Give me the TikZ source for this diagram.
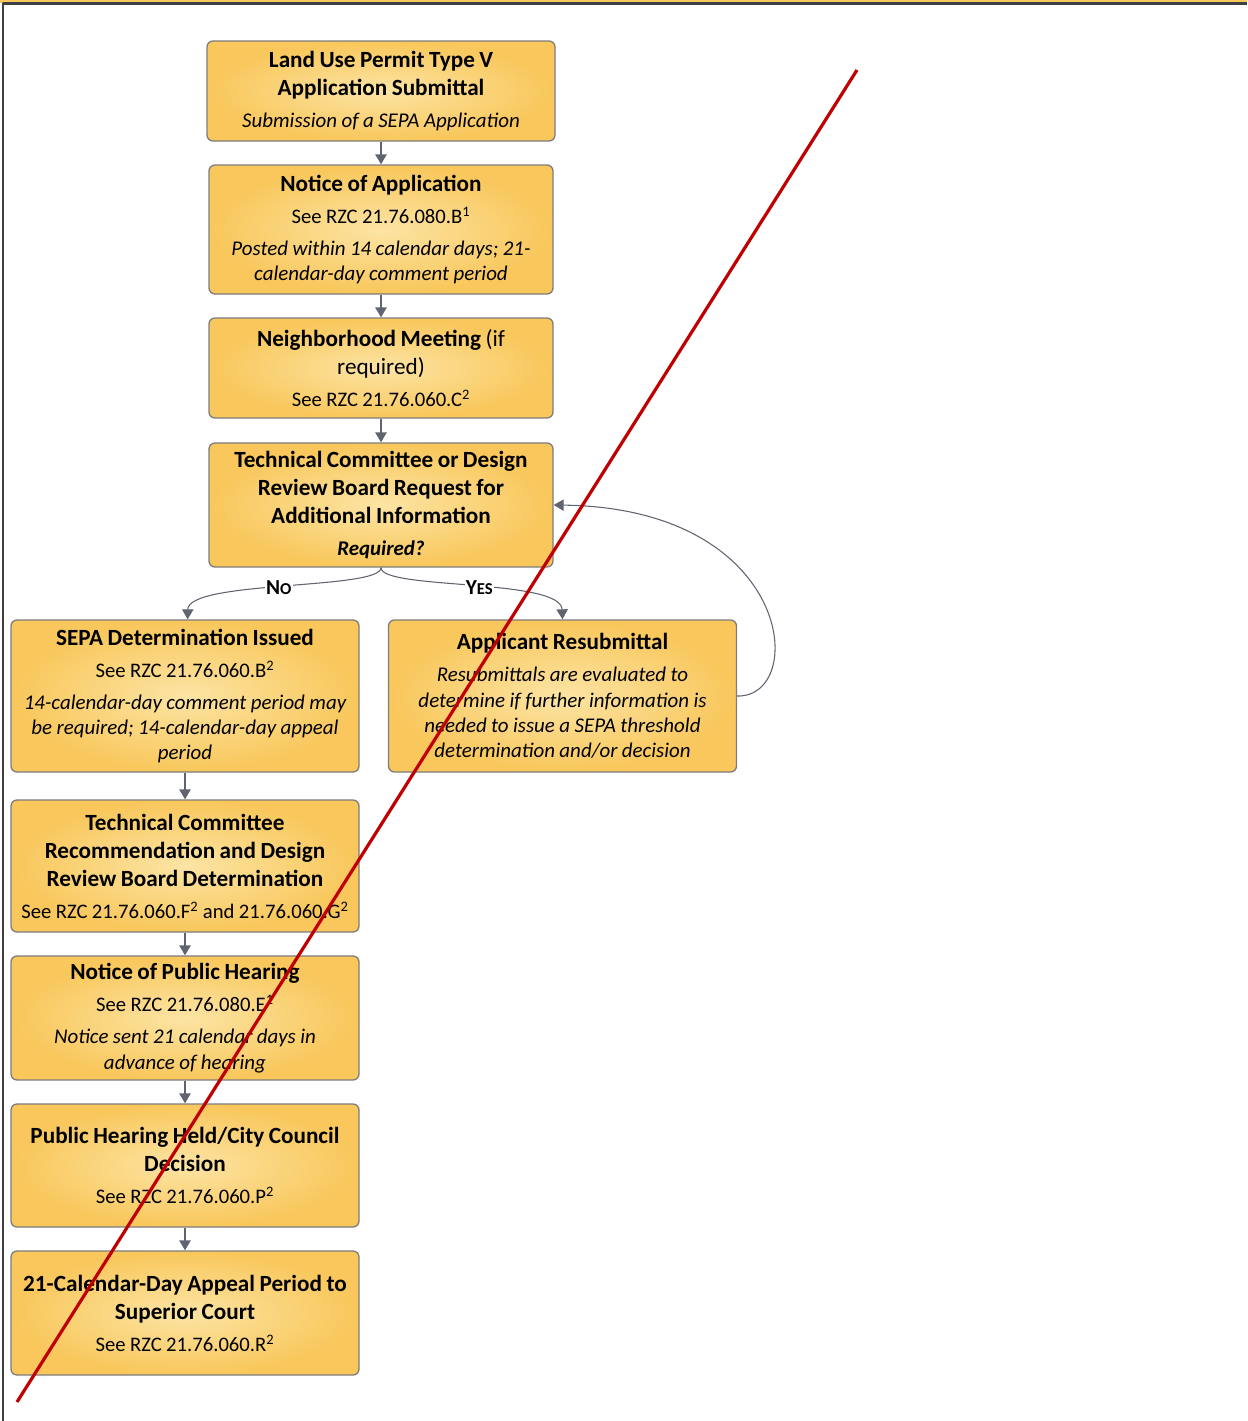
\documentclass[tikz,border=0pt]{standalone}
\usepackage{fontspec}
\setmainfont{Carlito}
\usetikzlibrary{arrows.meta}
\definecolor{boxlight}{HTML}{FCE4A4}
\definecolor{boxdark}{HTML}{F9C75B}
\definecolor{boxline}{HTML}{7D7D7D}
\definecolor{linkgray}{HTML}{5F6470}
\definecolor{strike}{HTML}{C00000}
\definecolor{frameline}{HTML}{3F3F46}
\definecolor{framefill}{HTML}{F9C85C}
\newcommand{\steptitle}[1]{{\fontsize{17.4}{21}\selectfont\bfseries #1\par}}
\newcommand{\stepref}[1]{\vspace{5pt}{\fontsize{15.5}{19}\selectfont #1\par}}
\newcommand{\stepnote}[1]{\vspace{5pt}{\fontsize{15.7}{19}\selectfont\itshape #1\par}}
\newcommand{\smallcapsword}[2]{#1{\fontsize{12.5}{14}\selectfont #2}}
\tikzset{
  stepbox/.style={draw=boxline, line width=1pt, rounded corners=4.5pt,
    inner color=boxlight, outer color=boxdark, align=center,
    text width=255pt, inner xsep=3pt, inner ysep=2pt},
  flow/.style={draw=linkgray, line width=1.3pt, -{Triangle[width=8.5pt,length=7.5pt]}},
  branch/.style={draw=linkgray, line width=0.8pt, -{Triangle[width=8.5pt,length=7.5pt]}},
  answer/.style={fill=white, inner sep=1pt, font=\fontsize{16}{18}\selectfont\bfseries}
}
\begin{document}
\begin{tikzpicture}[x=0.75pt, y=-0.75pt, line join=round]
  \useasboundingbox (0,0) rectangle (1247,1421);
  % frame
  \fill[framefill] (0,0) rectangle (1247,2.5);
  \draw[frameline, line width=1.6pt] (1247,3.5) -- (3,3.5) -- (3,1421);

  % main column
  \node[stepbox, text width=255pt, minimum height=75pt] (submit) at (381,91)
    {\steptitle{Land Use Permit Type V\\ Application Submittal}
     \stepnote{Submission of a SEPA Application}};
  \node[stepbox, text width=252pt, minimum height=96.75pt] (notice) at (381,229.5)
    {\steptitle{Notice of Application}
     \stepref{See RZC 21.76.080.B\textsuperscript{1}}
     \stepnote{Posted within 14 calendar days; 21-\\ calendar-day comment period}};
  \node[stepbox, text width=252pt, minimum height=75pt] (meeting) at (381,368)
    {\steptitle{Neighborhood Meeting {\mdseries(if\\ required)}}
     \stepref{See RZC 21.76.060.C\textsuperscript{2}}};
  \node[stepbox, text width=252pt, minimum height=93pt] (request) at (381,505)
    {\steptitle{Technical Committee or Design\\ Review Board Request for\\ Additional Information}
     \stepnote{\bfseries Required?}};

  % branches
  \node[stepbox, minimum height=114pt] (sepa) at (185,696)
    {\steptitle{SEPA Determination Issued}
     \stepref{See RZC 21.76.060.B\textsuperscript{2}}
     \stepnote{14-calendar-day comment period may\\ be required; 14-calendar-day appeal\\ period}};
  \node[stepbox, minimum height=114pt] (resubmit) at (562.5,696)
    {\steptitle{Applicant Resubmittal}
     \stepnote{Resubmittals are evaluated to\\ determine if further information is\\ needed to issue a SEPA threshold\\ determination and/or decision}};

  % lower column
  \node[stepbox, minimum height=99pt] (review) at (185,866)
    {\steptitle{Technical Committee\\ Recommendation and Design\\ Review Board Determination}
     \stepref{See RZC 21.76.060.F\textsuperscript{2} and 21.76.060.G\textsuperscript{2}}};
  \node[stepbox, minimum height=93pt] (hearingnotice) at (185,1018)
    {\steptitle{Notice of Public Hearing}
     \stepref{See RZC 21.76.080.E\textsuperscript{1}}
     \stepnote{Notice sent 21 calendar days in\\ advance of hearing}};
  \node[stepbox, minimum height=92.25pt] (hearing) at (185,1165.5)
    {\steptitle{Public Hearing Held/City Council\\ Decision}
     \stepref{See RZC 21.76.060.P\textsuperscript{2}}};
  \node[stepbox, minimum height=93pt] (appeal) at (185,1313)
    {\steptitle{21-Calendar-Day Appeal Period to\\ Superior Court}
     \stepref{See RZC 21.76.060.R\textsuperscript{2}}};

  % connectors
  \draw[flow] (submit) -- (notice);
  \draw[flow] (notice) -- (meeting);
  \draw[flow] (meeting) -- (request);
  \draw[flow] (sepa) -- (review);
  \draw[flow] (review) -- (hearingnotice);
  \draw[flow] (hearingnotice) -- (hearing);
  \draw[flow] (hearing) -- (appeal);

  \draw[branch] (request.south) .. controls (381,590) and (188,580) .. ([xshift=2pt]sepa.north)
    node[answer, pos=0.52] {\smallcapsword{N}{O}};
  \draw[branch] (request.south) .. controls (381,590) and (561,578) .. (resubmit.north)
    node[answer, pos=0.53] {\smallcapsword{Y}{ES}};
  \draw[branch] (resubmit.east) .. controls (808,698) and (795,508) .. (request.east);

  % strike-through
  \draw[strike, line width=2.4pt] (857,70) -- (17,1402);
\end{tikzpicture}
\end{document}
